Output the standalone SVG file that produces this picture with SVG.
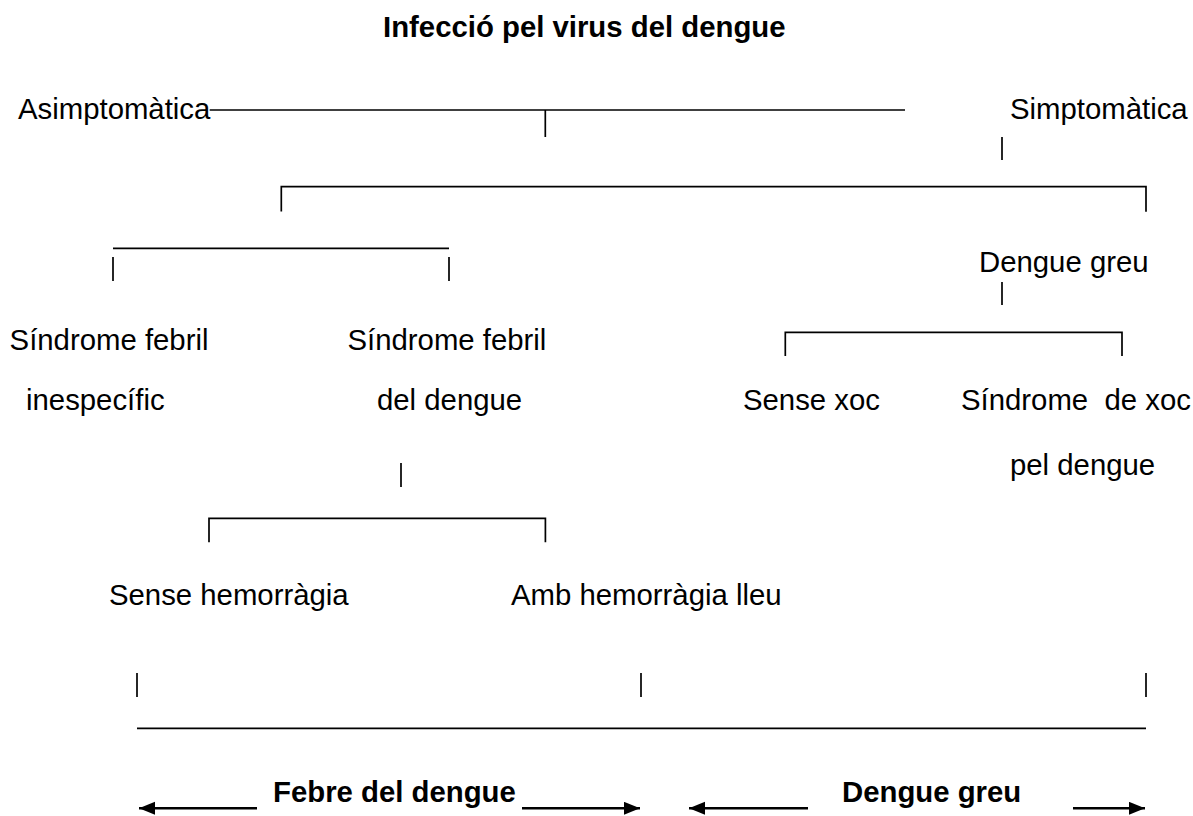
<svg xmlns="http://www.w3.org/2000/svg" width="1193" height="816" viewBox="0 0 1193 816">
<defs>
<style>
text{font-family:"Liberation Sans",Arial,sans-serif;font-size:29.33px;fill:#000}
.b{font-weight:bold}
.c{fill:none;stroke:#000;stroke-width:1.7}
.a{fill:none;stroke:#000;stroke-width:2.6}
</style>
<marker id="ah" markerUnits="userSpaceOnUse" markerWidth="18" markerHeight="14" refX="16" refY="6.5" orient="auto">
<path d="M0,0 L16,6.5 L0,13 z" fill="#000"/>
</marker>
</defs>
<rect width="1193" height="816" fill="#fff"/>
<g id="title"><text class="b" x="383" y="37">Infecció pel virus del dengue</text></g>
<g id="asimptomatica"><text x="18" y="119">Asimptomàtica</text></g>
<g id="simptomatica"><text x="1010" y="119">Simptomàtica</text></g>
<g id="dengue-greu-node"><text x="979" y="272">Dengue greu</text></g>
<g id="sindrome-inespecific"><text x="9.6" y="350">Síndrome febril</text><text x="26" y="410">inespecífic</text></g>
<g id="sindrome-dengue"><text x="347.5" y="350">Síndrome febril</text><text x="377" y="410">del dengue</text></g>
<g id="sense-xoc"><text x="743" y="410">Sense xoc</text></g>
<g id="sindrome-xoc"><text x="961" y="410" xml:space="preserve">Síndrome  de xoc</text><text x="1010" y="475">pel dengue</text></g>
<g id="sense-hemorragia"><text x="109" y="605">Sense hemorràgia</text></g>
<g id="amb-hemorragia"><text x="511" y="605">Amb hemorràgia lleu</text></g>
<g id="febre-dengue"><text class="b" x="273" y="802">Febre del dengue</text></g>
<g id="dengue-greu-range"><text class="b" x="842" y="802">Dengue greu</text></g>
<g id="connectors">
<path class="c" d="M209.7,110 H905"/>
<path class="c" d="M545.3,110 V137"/>
<path class="c" d="M1002,137 V160"/>
<path class="c" d="M281.3,211.5 V186.7 H1146 V211.7"/>
<path class="c" d="M113,248.3 H449"/>
<path class="c" d="M113,257 V281"/>
<path class="c" d="M449,257 V281"/>
<path class="c" d="M1002,282 V305"/>
<path class="c" d="M785.3,356 V332.3 H1122 V356"/>
<path class="c" d="M401,463 V487"/>
<path class="c" d="M209,542.3 V518.3 H545.4 V542.3"/>
<path class="c" d="M137,673 V697"/>
<path class="c" d="M641,673 V697"/>
<path class="c" d="M1146,673 V697"/>
<path class="c" d="M137,728.3 H1146"/>
<line class="a" x1="257" y1="808.3" x2="139" y2="808.3" marker-end="url(#ah)"/>
<line class="a" x1="522" y1="808.3" x2="640" y2="808.3" marker-end="url(#ah)"/>
<line class="a" x1="808" y1="808.3" x2="689" y2="808.3" marker-end="url(#ah)"/>
<line class="a" x1="1073" y1="808.3" x2="1145" y2="808.3" marker-end="url(#ah)"/>
</g>
</svg>
